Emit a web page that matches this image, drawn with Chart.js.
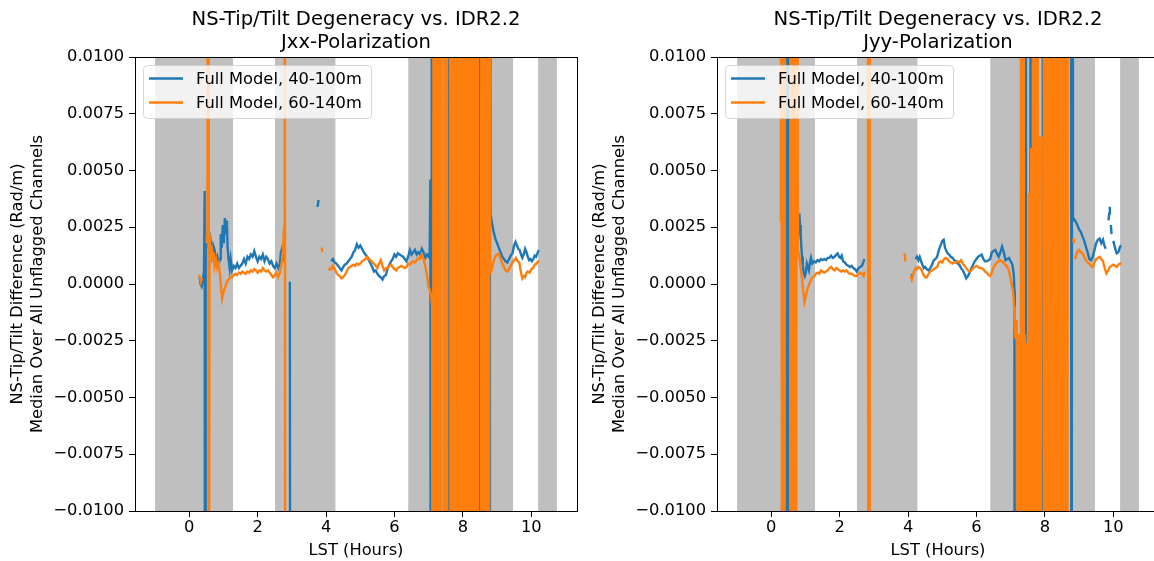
<!DOCTYPE html>
<html>
<head>
<meta charset="utf-8">
<script src="https://cdn.jsdelivr.net/npm/chart.js@4.4.0/dist/chart.umd.min.js"></script>
<style>
  html, body { margin: 0; padding: 0; background: #fff; overflow: hidden; }
  #wrap { position: relative; width: 1154px; height: 561px; overflow: hidden; }
  #left { position: absolute; left: 0; top: 0; }
  #right { position: absolute; left: 577px; top: 0; }
</style>
</head>
<body>
<div id="wrap">
  <canvas id="left" width="590" height="561"></canvas>
  <canvas id="right" width="600" height="561"></canvas>
</div>
<script>
// values, in units of 1e-3 rad/m ; +-40 = far off the axis (the spikes)
const SCALE = 1e-3;
const FONT = '"DejaVu Sans", sans-serif';
const FS = 16.3;      // 10pt at the figure dpi
const FS_TITLE = 19.6; // 12pt

const bandStart = [-1.0, 2.5, 6.4, 10.2];
const bandEnd = [1.28, 4.28, 9.47, 10.75];
const xTicks = [0, 2, 4, 6, 8, 10];
const yTicks = [-0.01, -0.0075, -0.005, -0.0025, 0, 0.0025, 0.005, 0.0075, 0.01];
const seriesNames = ['Full Model, 40-100m', 'Full Model, 60-140m'];
const mainTitle = 'NS-Tip/Tilt Degeneracy vs. IDR2.2';

// Jxx, 40-100m
const jxx40 = [
  [0.30,0.3],[0.33,0.0],[0.36,-0.1],[0.40,0.2],[0.43,0.6],[0.45,4.1],[0.46,-40],[0.48,2.0],[0.51,1.6],[0.55,2.3],
  [0.58,1.5],[0.62,1.9],[0.66,1.3],[0.70,1.7],[0.74,1.5],[0.78,1.0],[0.82,1.2],[0.86,0.9],[0.90,1.1],[0.92,2.2],
  [0.95,1.6],[0.98,2.6],[1.01,1.8],[1.04,2.9],[1.07,2.2],[1.10,2.8],[1.12,1.6],[1.15,1.1],[1.18,0.7],[1.21,1.1],
  [1.25,0.6],[1.30,0.8],[1.35,0.7],[1.40,0.9],[1.45,0.7],[1.50,0.8],[1.55,0.9],[1.60,1.1],[1.65,0.9],[1.70,1.2],
  [1.75,1.1],[1.80,1.3],[1.85,1.2],[1.90,1.45],[1.95,1.2],[2.00,1.0],[2.05,1.2],[2.10,1.1],[2.15,1.3],[2.20,1.0],
  [2.25,1.2],[2.30,1.1],[2.35,0.9],[2.40,1.0],[2.45,0.8],[2.50,0.7],[2.55,0.9],[2.60,0.7],[2.65,0.9],[2.68,1.4],
  [2.72,1.6],[2.76,1.0],[2.78,null],[2.94,0.1],[2.96,-40],[2.98,null],
  [3.75,3.4],[3.78,3.7],[3.80,null],
  [4.15,1.0],[4.20,1.1],[4.25,0.95],[4.30,0.9],[4.35,0.8],[4.40,0.7],[4.45,0.6],[4.50,0.75],[4.55,0.85],[4.60,0.9],
  [4.65,1.0],[4.70,1.1],[4.75,1.2],[4.80,1.4],[4.85,1.5],[4.90,1.75],[4.95,1.6],[5.00,1.7],[5.05,1.55],[5.10,1.4],
  [5.15,1.3],[5.20,1.2],[5.25,1.05],[5.30,0.9],[5.35,0.75],[5.40,0.55],[5.45,0.6],[5.50,0.45],[5.55,0.35],[5.60,0.3],
  [5.65,0.2],[5.70,0.35],[5.75,0.4],[5.80,0.7],[5.85,0.85],[5.90,1.0],[5.95,1.1],[6.00,1.3],[6.05,1.2],[6.10,1.35],
  [6.15,1.3],[6.20,1.25],[6.25,1.2],[6.30,1.1],[6.35,1.0],[6.40,1.2],[6.45,1.5],[6.50,1.3],[6.55,1.4],[6.60,1.5],
  [6.65,1.3],[6.70,1.4],[6.75,1.3],[6.80,1.55],[6.85,1.4],[6.90,1.15],[6.95,1.3],[7.00,1.2],[7.03,1.4],[7.05,4.6],
  [7.07,-40],[7.09,40],[7.11,-40],[7.13,40],[7.14,null],
  [7.58,-40],[7.60,40],[7.61,null],[7.87,40],[7.89,-40],[7.90,null],[8.46,-40],[8.48,40],[8.50,-40],[8.51,null],
  [8.70,40],[8.72,-40],[8.73,null],[8.77,-40],[8.79,40],
  [8.81,3.1],[8.85,2.7],[8.90,2.3],[8.95,2.0],[9.00,1.8],[9.05,1.6],[9.10,1.4],[9.15,1.2],[9.20,1.1],[9.25,1.0],
  [9.30,0.95],[9.35,1.1],[9.40,1.25],[9.45,1.35],[9.50,1.7],[9.54,1.85],[9.58,1.7],[9.62,1.55],[9.66,1.5],[9.70,1.3],
  [9.74,1.15],[9.78,1.3],[9.82,1.55],[9.86,1.4],[9.90,1.2],[9.94,1.05],[9.98,1.1],[10.02,1.0],[10.06,1.1],[10.10,1.25],
  [10.14,1.2],[10.18,1.35],[10.22,1.5]
];

// Jxx, 60-140m
const jxx60 = [
  [0.28,0.4],[0.31,0.3],[0.34,0.1],[0.37,0.25],[0.39,null],
  [0.50,1.8],[0.53,2.4],[0.55,40],[0.57,-40],[0.59,2.2],[0.62,1.2],[0.65,1.7],[0.68,1.0],[0.71,1.4],[0.74,0.8],
  [0.78,1.1],[0.82,0.7],[0.86,0.9],[0.90,0.4],[0.93,-0.2],[0.96,-0.65],[0.99,-0.45],[1.02,-0.25],[1.06,-0.1],[1.10,0.1],
  [1.15,0.2],[1.20,0.3],[1.25,0.3],[1.30,0.4],[1.35,0.45],[1.40,0.4],[1.45,0.5],[1.50,0.45],[1.55,0.55],[1.60,0.5],
  [1.65,0.45],[1.70,0.55],[1.75,0.5],[1.80,0.6],[1.85,0.55],[1.90,0.65],[1.95,0.6],[2.00,0.5],[2.05,0.6],[2.10,0.55],
  [2.15,0.7],[2.20,0.6],[2.25,0.55],[2.30,0.6],[2.35,0.5],[2.40,0.4],[2.45,0.3],[2.50,0.4],[2.55,0.5],[2.60,0.3],
  [2.65,0.5],[2.70,0.9],[2.74,1.5],[2.77,2.5],[2.79,40],[2.81,-40],[2.83,null],
  [3.87,1.6],[3.89,1.4],[3.91,null],
  [4.08,0.6],[4.12,0.7],[4.16,0.65],[4.20,0.8],[4.25,0.65],[4.30,0.5],[4.35,0.4],[4.40,0.35],[4.45,0.25],[4.50,0.3],
  [4.55,0.4],[4.60,0.55],[4.65,0.7],[4.70,0.75],[4.75,0.8],[4.80,0.85],[4.85,0.8],[4.90,0.9],[4.95,0.85],[5.00,0.9],
  [5.05,1.0],[5.10,1.05],[5.15,1.1],[5.20,1.2],[5.25,1.1],[5.30,1.05],[5.35,0.95],[5.40,0.9],[5.45,0.8],[5.50,0.7],
  [5.55,0.9],[5.60,1.05],[5.65,0.8],[5.70,0.6],[5.75,0.7],[5.80,0.7],[5.85,0.8],[5.90,0.85],[5.95,0.75],[6.00,0.65],
  [6.05,0.6],[6.10,0.7],[6.15,0.75],[6.20,0.8],[6.25,0.75],[6.30,0.7],[6.35,0.75],[6.40,0.9],[6.45,0.85],[6.50,0.95],
  [6.55,1.0],[6.60,0.95],[6.65,1.05],[6.70,1.15],[6.75,1.1],[6.80,1.3],[6.85,1.1],[6.90,0.8],[6.95,0.4],[7.00,-0.15],
  [7.04,-0.3],[7.08,-0.6],[7.10,-1.0],
  [7.12,-40],[7.15,40],[7.18,-40],[7.21,40],[7.24,-40],[7.27,40],[7.30,-40],[7.33,40],[7.36,-40],[7.39,40],[7.40,null],
  [7.44,-40],[7.47,40],[7.50,-40],[7.53,40],[7.55,-40],[7.56,null],
  [7.62,40],[7.65,-40],[7.68,40],[7.71,-40],[7.74,40],[7.77,-40],[7.80,40],[7.83,-40],[7.86,40],[7.89,-40],
  [7.92,40],[7.95,-40],[7.98,40],[8.01,-40],[8.04,40],[8.07,-40],[8.10,40],[8.13,-40],[8.16,40],[8.19,-40],
  [8.22,40],[8.25,-40],[8.28,40],[8.31,-40],[8.34,40],[8.37,-40],[8.40,40],[8.43,-40],[8.45,40],[8.46,null],
  [8.52,-40],[8.55,40],[8.58,-40],[8.61,40],[8.64,-40],[8.67,40],[8.69,-40],[8.70,null],[8.73,40],[8.76,-40],[8.78,40],
  [8.80,0.5],[8.84,0.6],[8.88,0.9],[8.92,1.1],[8.96,1.25],[9.00,1.3],[9.05,1.35],[9.10,1.1],[9.15,0.9],[9.20,0.75],
  [9.25,0.6],[9.30,0.55],[9.35,0.65],[9.40,0.8],[9.45,0.95],[9.50,1.05],[9.55,1.15],[9.60,1.0],[9.65,0.95],[9.70,0.5],
  [9.74,0.25],[9.78,0.35],[9.82,0.3],[9.86,0.5],[9.90,0.55],[9.95,0.5],[10.00,0.65],[10.05,0.7],[10.10,0.85],[10.15,0.9],
  [10.20,1.0],[10.23,0.95]
];

// Jyy, 40-100m
const jyy40 = [
  [0.33,40],[0.35,-40],[0.36,null],[0.43,40],[0.45,-40],[0.47,40],[0.49,-40],[0.51,40],[0.52,null],
  [0.78,2.0],[0.80,2.8],[0.82,3.1],[0.84,2.6],[0.86,2.2],[0.88,1.6],[0.90,1.2],[0.92,0.8],[0.95,0.5],[0.98,0.35],
  [1.01,0.5],[1.04,0.9],[1.07,0.75],[1.10,0.6],[1.13,0.95],[1.16,1.15],[1.20,0.9],[1.25,1.0],[1.30,0.95],[1.35,1.05],
  [1.40,1.0],[1.45,1.1],[1.50,1.05],[1.55,1.1],[1.60,1.05],[1.65,1.15],[1.70,1.15],[1.75,1.25],[1.80,1.15],[1.85,1.2],
  [1.90,1.3],[1.94,1.35],[1.98,1.2],[2.02,1.15],[2.06,1.25],[2.10,1.0],[2.15,0.95],[2.20,0.85],[2.25,0.8],[2.30,0.75],
  [2.35,0.8],[2.40,0.7],[2.45,0.65],[2.50,0.55],[2.55,0.7],[2.60,0.75],[2.65,0.8],[2.70,1.0],[2.72,1.1],[2.74,null],
  [4.10,0.45],[4.13,0.3],[4.15,null],
  [4.22,1.1],[4.26,1.2],[4.30,1.05],[4.34,1.2],[4.38,1.0],[4.42,0.85],[4.46,0.7],[4.50,0.75],[4.55,0.65],[4.60,0.6],
  [4.65,0.7],[4.70,0.85],[4.75,1.05],[4.80,1.1],[4.85,1.2],[4.90,1.5],[4.95,1.7],[5.00,1.9],[5.04,1.95],[5.08,1.6],
  [5.12,1.45],[5.16,1.35],[5.20,1.3],[5.25,1.2],[5.30,1.15],[5.35,1.05],[5.40,1.0],[5.45,0.9],[5.50,0.85],[5.55,0.7],
  [5.60,0.6],[5.65,0.45],[5.70,0.25],[5.75,0.35],[5.80,0.5],[5.85,0.7],[5.90,0.85],[5.95,1.0],[6.00,1.1],[6.05,1.2],
  [6.10,1.25],[6.15,1.3],[6.20,1.1],[6.25,1.0],[6.30,1.0],[6.35,1.05],[6.40,1.1],[6.45,1.4],[6.50,1.45],[6.55,1.5],
  [6.60,1.35],[6.65,1.2],[6.70,1.4],[6.75,1.65],[6.80,1.4],[6.85,1.05],[6.90,1.1],[6.95,1.15],[7.00,1.0],[7.05,0.85],
  [7.09,0.45],[7.11,-0.3],[7.12,-40],[7.13,null],
  [7.30,40],[7.32,-40],[7.34,40],[7.35,null],[7.44,40],[7.46,-40],[7.47,null],[7.57,40],[7.59,-40],[7.60,null],
  [7.93,40],[7.95,-40],[7.96,null],[8.30,-5.0],[8.32,-40],[8.33,null],
  [8.76,40],[8.78,-40],[8.80,40],
  [8.82,2.8],[8.86,2.85],[8.90,2.75],[8.95,2.6],[9.00,2.4],[9.05,2.3],[9.10,2.1],[9.15,1.9],[9.20,1.65],[9.25,1.4],
  [9.30,1.1],[9.35,1.05],[9.40,1.2],[9.45,1.5],[9.50,1.8],[9.55,1.95],[9.60,2.0],[9.65,1.8],[9.70,1.95],[9.74,1.7],
  [9.78,1.55],[9.80,null],[9.86,2.8],[9.88,3.1],[9.90,3.4],[9.91,null],[9.93,2.6],[9.95,2.2],[9.97,null],
  [10.00,1.9],[10.05,1.6],[10.10,1.35],[10.15,1.4],[10.20,1.65],[10.23,1.7]
];

// Jyy, 60-140m
const jyy60 = [
  [0.28,2.7],[0.29,40],[0.32,-40],[0.35,40],[0.38,-40],[0.41,40],[0.42,null],
  [0.54,-40],[0.57,40],[0.60,-40],[0.63,40],[0.66,-40],[0.69,40],[0.72,-40],[0.75,40],
  [0.78,1.5],[0.82,1.2],[0.86,0.7],[0.90,0.2],[0.94,-0.4],[0.97,-0.8],[1.00,-0.6],[1.03,-0.4],[1.06,-0.2],[1.10,-0.05],
  [1.14,0.1],[1.18,0.25],[1.22,0.3],[1.26,0.35],[1.30,0.45],[1.35,0.5],[1.40,0.45],[1.45,0.6],[1.50,0.55],[1.55,0.5],
  [1.60,0.55],[1.65,0.6],[1.70,0.7],[1.75,0.75],[1.80,0.65],[1.85,0.6],[1.90,0.7],[1.95,0.65],[2.00,0.6],[2.05,0.55],
  [2.10,0.6],[2.15,0.55],[2.20,0.6],[2.25,0.5],[2.30,0.45],[2.35,0.45],[2.40,0.4],[2.45,0.35],[2.50,0.35],[2.55,0.45],
  [2.60,0.5],[2.65,0.45],[2.70,0.35],[2.73,0.55],[2.75,null],
  [2.82,40],[2.84,-40],[2.86,40],[2.88,-40],[2.89,null],
  [3.90,1.35],[3.92,1.0],[3.93,null],
  [4.08,0.35],[4.11,0.2],[4.14,0.4],[4.18,0.55],[4.22,0.7],[4.26,0.65],[4.30,0.75],[4.35,0.7],[4.40,0.6],[4.45,0.4],
  [4.50,0.3],[4.55,0.3],[4.60,0.45],[4.65,0.55],[4.70,0.6],[4.75,0.65],[4.80,0.7],[4.85,0.75],[4.90,0.95],[4.95,1.0],
  [5.00,0.95],[5.05,1.1],[5.10,1.15],[5.15,1.1],[5.20,1.0],[5.25,0.95],[5.30,0.9],[5.35,0.95],[5.40,0.95],[5.45,1.0],
  [5.50,0.95],[5.55,1.05],[5.60,0.9],[5.65,0.8],[5.70,0.7],[5.75,0.6],[5.80,0.55],[5.85,0.6],[5.90,0.7],[5.95,0.75],
  [6.00,0.8],[6.05,0.75],[6.10,0.7],[6.15,0.7],[6.20,0.65],[6.25,0.55],[6.30,0.5],[6.35,0.4],[6.40,0.35],[6.45,0.5],
  [6.50,0.75],[6.55,0.85],[6.60,0.95],[6.65,1.0],[6.70,1.05],[6.75,1.0],[6.80,0.9],[6.85,0.85],[6.90,0.75],[6.95,0.6],
  [7.00,0.2],[7.04,-0.1],[7.07,-0.3],[7.10,-1.0],
  [7.12,-2.0],[7.14,-2.4],[7.16,-1.6],[7.18,-2.9],[7.20,-40],[7.22,-2.2],[7.24,-40],[7.26,-3.0],[7.29,-40],[7.31,40],
  [7.34,-40],[7.37,40],[7.40,-40],[7.42,-2.2],[7.45,-40],[7.48,-2.6],[7.51,-40],[7.54,4.0],[7.57,-40],[7.60,6.0],
  [7.63,-40],[7.66,40],[7.69,-40],[7.72,40],[7.75,-40],[7.78,40],[7.81,-40],[7.84,6.5],[7.87,-40],[7.90,6.5],[7.92,null],
  [7.96,40],[7.99,-40],[8.02,40],[8.05,-40],[8.08,40],[8.11,-40],[8.14,40],[8.17,-40],[8.20,40],[8.23,-40],
  [8.26,40],[8.29,-40],[8.32,40],[8.35,-40],[8.38,40],[8.41,-40],[8.44,40],[8.47,-40],[8.50,40],[8.53,-40],
  [8.56,40],[8.59,-40],[8.62,40],[8.65,-40],[8.68,40],[8.70,null],
  [8.83,2.0],[8.85,1.8],[8.86,null],
  [8.88,1.1],[8.92,1.3],[8.96,1.45],[9.00,1.5],[9.05,1.4],[9.10,1.35],[9.15,1.2],[9.20,1.05],[9.25,0.95],[9.30,0.9],
  [9.35,0.8],[9.40,0.75],[9.45,0.95],[9.50,1.1],[9.55,1.15],[9.60,1.2],[9.65,1.1],[9.70,1.0],[9.75,0.7],[9.80,0.47],
  [9.85,0.6],[9.90,0.75],[9.95,0.8],[10.00,0.85],[10.05,0.8],[10.10,0.75],[10.15,0.85],[10.20,0.9],[10.23,0.85]
];

function toPoints(pairs) {
  return pairs.map(p => ({ x: p[0], y: p[1] === null ? null : p[1] * SCALE }));
}

function fmtY(v) {
  if (Math.abs(v) < 1e-12) return '0.0000';
  return (v < 0 ? '\u2212' : '') + Math.abs(v).toFixed(4);
}

// title over the axes, centred on the plot area like matplotlib
const axTitle = {
  id: 'axTitle',
  afterDraw(chart, args, opts) {
    const { ctx, chartArea } = chart;
    const cx = (chartArea.left + chartArea.right) / 2;
    ctx.save();
    ctx.fillStyle = '#000';
    ctx.font = FS_TITLE + 'px ' + FONT;
    ctx.textAlign = 'center';
    ctx.textBaseline = 'alphabetic';
    opts.lines.forEach((t, i) => ctx.fillText(t, cx, 25 + i * 23));
    ctx.restore();
  }
};

// full box + legend
const frameLegend = {
  id: 'frameLegend',
  afterDraw(chart) {
    const { ctx, chartArea: a } = chart;
    ctx.save();
    ctx.strokeStyle = '#000';
    ctx.lineWidth = 1;
    ctx.strokeRect(Math.round(a.left) + 0.5, Math.round(a.top) + 0.5,
      Math.round(a.right - a.left), Math.round(a.bottom - a.top));

    const lx = a.left + 8, ly = a.top + 8, lw = 228, lh = 53;
    ctx.beginPath();
    ctx.roundRect(lx + 0.5, ly + 0.5, lw, lh, 4);
    ctx.fillStyle = 'rgba(255,255,255,0.8)';
    ctx.fill();
    ctx.strokeStyle = 'rgba(204,204,204,0.8)';
    ctx.stroke();

    const cols = ['#1f77b4', '#ff7f0e'];
    ctx.font = FS + 'px ' + FONT;
    ctx.textBaseline = 'middle';
    ctx.textAlign = 'left';
    seriesNames.forEach((name, i) => {
      const y = ly + 13.5 + i * 24;
      ctx.beginPath();
      ctx.moveTo(lx + 6, y);
      ctx.lineTo(lx + 40, y);
      ctx.strokeStyle = cols[i];
      ctx.lineWidth = 2.4;
      ctx.stroke();
      ctx.fillStyle = '#000';
      ctx.fillText(name, lx + 53, y + 1);
    });
    ctx.restore();
  }
};

function makeChart(canvasId, pol, blue, orange, yWidth, yTitlePad, padRight) {
  const bands = bandStart.map((s, i) => ({
    data: [{ x: s, y: 0.01 }, { x: bandEnd[i], y: 0.01 }],
    borderWidth: 0,
    borderColor: 'rgba(0,0,0,0)',
    pointRadius: 0,
    fill: 'start',
    backgroundColor: '#bfbfbf',
    order: 10
  }));

  return new Chart(document.getElementById(canvasId), {
    type: 'line',
    data: {
      datasets: [
        { label: seriesNames[0], data: toPoints(blue), borderColor: '#1f77b4', borderWidth: 2.4,
          pointRadius: 0, tension: 0, spanGaps: false, fill: false, order: 2 },
        { label: seriesNames[1], data: toPoints(orange), borderColor: '#ff7f0e', borderWidth: 2.4,
          pointRadius: 0, tension: 0, spanGaps: false, fill: false, order: 1 }
      ].concat(bands)
    },
    options: {
      responsive: false,
      animation: false,
      events: [],
      layout: { padding: { left: 0, right: padRight, top: 57, bottom: 0 } },
      plugins: {
        legend: { display: false },
        tooltip: { enabled: false },
        title: { display: false },
        axTitle: { lines: [mainTitle, pol] }
      },
      scales: {
        x: {
          type: 'linear',
          min: -1.5875,
          max: 11.3375,
          afterBuildTicks: s => { s.ticks = xTicks.map(v => ({ value: v })); },
          afterFit: s => { s.height = 50; },
          grid: { drawOnChartArea: false, drawTicks: true, tickLength: 6, color: '#000' },
          border: { display: false },
          ticks: { color: '#000', font: { family: FONT, size: FS }, padding: 1, maxRotation: 0,
                   callback: v => String(v) },
          title: { display: true, text: 'LST (Hours)', color: '#000',
                   font: { family: FONT, size: FS }, padding: { top: 0, bottom: 0 } }
        },
        y: {
          type: 'linear',
          min: -0.01,
          max: 0.01,
          afterBuildTicks: s => { s.ticks = yTicks.map(v => ({ value: v })); },
          afterFit: s => { s.width = yWidth; },
          grid: { drawOnChartArea: false, drawTicks: true, tickLength: 6, color: '#000' },
          border: { display: false },
          ticks: { color: '#000', font: { family: FONT, size: FS }, padding: 5, callback: v => fmtY(v) },
          title: { display: true, color: '#000',
                   text: ['NS-Tip/Tilt Difference (Rad/m)', 'Median Over All Unflagged Channels'],
                   font: { family: FONT, size: FS, lineHeight: 1.2 }, padding: { top: yTitlePad, bottom: 0 } }
        }
      }
    },
    plugins: [axTitle, frameLegend]
  });
}

makeChart('left', 'Jxx-Polarization', jxx40, jxx60, 135, 8, 13);
makeChart('right', 'Jyy-Polarization', jyy40, jyy60, 140, 13, 18);
</script>
</body>
</html>
